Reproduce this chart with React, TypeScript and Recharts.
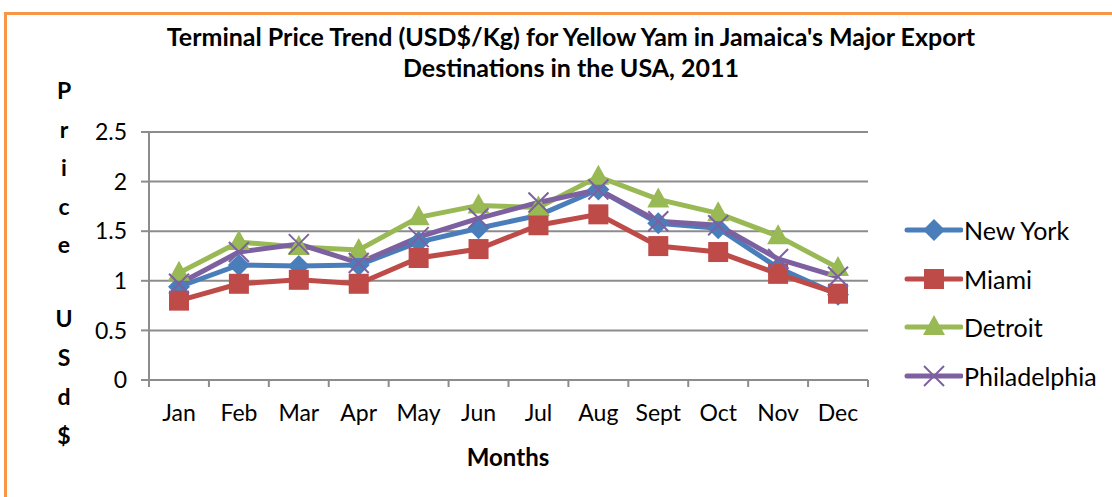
import React from "react";
import { LineChart, Line, XAxis, YAxis, CartesianGrid } from "recharts";

const months = ["Jan", "Feb", "Mar", "Apr", "May", "Jun", "Jul", "Aug", "Sept", "Oct", "Nov", "Dec"];
const newYork = [0.94, 1.16, 1.15, 1.16, 1.39, 1.53, 1.66, 1.92, 1.58, 1.53, 1.13, 0.86];
const miami = [0.8, 0.97, 1.01, 0.97, 1.23, 1.32, 1.56, 1.67, 1.35, 1.29, 1.07, 0.87];
const detroit = [1.08, 1.39, 1.34, 1.31, 1.64, 1.76, 1.74, 2.05, 1.82, 1.68, 1.45, 1.13];
const philadelphia = [0.97, 1.29, 1.37, 1.18, 1.44, 1.63, 1.79, 1.92, 1.6, 1.56, 1.22, 1.04];
const yTicks = [0, 0.5, 1, 1.5, 2, 2.5];
const bandEdges = [0, 1, 2, 3, 4, 5, 6, 7, 8, 9, 10, 11, 12];
const yLabelTop = ["P", "r", "i", "c", "e"];
const yLabelBottom = ["U", "S", "d", "$"];

const data = months.map((m, i) => ({
  month: m,
  idx: i,
  ny: newYork[i],
  mia: miami[i],
  det: detroit[i],
  phi: philadelphia[i],
}));

const FONT = "Lato, 'Open Sans', sans-serif";
const GRID = "#8c8c8c";

const series = [
  { key: "ny", name: "New York", color: "#4a7ebb", shape: "diamond" },
  { key: "mia", name: "Miami", color: "#be4b48", shape: "square" },
  { key: "det", name: "Detroit", color: "#98b954", shape: "triangle" },
  { key: "phi", name: "Philadelphia", color: "#7d60a0", shape: "cross" },
];

function Marker({ cx, cy, shape, color }: { cx: number; cy: number; shape: string; color: string }) {
  if (cx == null || cy == null) return null;
  if (shape === "diamond")
    return <polygon points={`${cx},${cy - 11} ${cx + 11},${cy} ${cx},${cy + 11} ${cx - 11},${cy}`} fill={color} />;
  if (shape === "square")
    return <rect x={cx - 10} y={cy - 10} width={20} height={20} fill={color} />;
  if (shape === "triangle")
    return <polygon points={`${cx},${cy - 12} ${cx + 11},${cy + 8} ${cx - 11},${cy + 8}`} fill={color} />;
  return (
    <g stroke={color} strokeWidth={2}>
      <line x1={cx - 10} y1={cy - 10} x2={cx + 10} y2={cy + 10} />
      <line x1={cx - 10} y1={cy + 10} x2={cx + 10} y2={cy - 10} />
    </g>
  );
}

function LegendBox() {
  return (
    <div style={{ fontFamily: FONT, fontSize: 25, color: "#000" }}>
      {series.map((s) => (
        <div key={s.key} style={{ display: "flex", alignItems: "center", height: 48.5 }}>
          <svg width={60} height={26}>
            <line x1={4} y1={13} x2={58} y2={13} stroke={s.color} strokeWidth={5} strokeLinecap="round" />
            <Marker cx={31} cy={13} shape={s.shape} color={s.color} />
          </svg>
          <span style={{ marginLeft: 1 }}>{s.name}</span>
        </div>
      ))}
    </div>
  );
}

const letterStyle: React.CSSProperties = {
  position: "absolute", left: 52, width: 24, textAlign: "center",
  fontFamily: FONT, fontWeight: 700, fontSize: 23, lineHeight: "28px",
};

export default function App() {
  return (
    <div style={{ position: "absolute", left: 0, top: 0, width: 1112, height: 497, background: "#fff", overflow: "hidden" }}>
      <div
        style={{
          position: "absolute", left: 4, top: 12, width: 1120, height: 500,
          borderTop: "3px solid #f79646", borderLeft: "3px solid #f79646",
        }}
      />
      <div
        style={{
          position: "absolute", left: 0, width: 1142, top: 21, textAlign: "center",
          fontFamily: FONT, fontWeight: 700, fontSize: 25, lineHeight: "31px", color: "#000",
        }}
      >
        Terminal Price Trend (USD$/Kg) for Yellow Yam in Jamaica's Major Export
        <br />
        Destinations in the USA, 2011
      </div>
      {yLabelTop.map((c, i) => (
        <div key={"t" + i} style={{ ...letterStyle, top: 76 + i * 38.5 }}>
          {c}
        </div>
      ))}
      {yLabelBottom.map((c, i) => (
        <div key={"b" + i} style={{ ...letterStyle, top: 304 + i * 39 }}>
          {c}
        </div>
      ))}
      <div style={{ position: "absolute", left: 448, width: 120, textAlign: "center", top: 443, fontFamily: FONT, fontWeight: 700, fontSize: 24, lineHeight: "28px" }}>
        Months
      </div>
      <div style={{ position: "absolute", left: 0, top: 0 }}>
        <LineChart width={1112} height={497} data={data} margin={{ top: 132, right: 244, bottom: 76, left: 89 }}>
          <CartesianGrid vertical={false} stroke={GRID} strokeWidth={2} />
          {/* axis line + band-edge tick marks, like Excel's category axis */}
          <XAxis
            xAxisId={0}
            dataKey="idx"
            type="number"
            domain={[0, 12]}
            allowDataOverflow
            ticks={bandEdges}
            height={1}
            axisLine={{ stroke: GRID, strokeWidth: 2 }}
            tick={() => <g />}
            tickLine={{ stroke: GRID, strokeWidth: 2 }}
            tickSize={7}
          />
          <XAxis
            xAxisId="cat"
            dataKey="month"
            height={40}
            padding={{ left: 30, right: 30 }}
            axisLine={false}
            tickLine={false}
            tickSize={0}
            tickMargin={24}
            interval={0}
            tick={{ fill: "#000", fontSize: 23, fontFamily: FONT }}
          />
          <YAxis
            width={60}
            domain={[0, 2.5]}
            ticks={yTicks}
            axisLine={{ stroke: GRID, strokeWidth: 2 }}
            tickLine={{ stroke: GRID, strokeWidth: 2 }}
            tickSize={8}
            tickMargin={14}
            tick={{ fill: "#000", fontSize: 23, fontFamily: FONT }}
          />
          {series.map((s) => (
            <Line
              key={s.key}
              xAxisId="cat"
              type="linear"
              dataKey={s.key}
              name={s.name}
              stroke={s.color}
              strokeWidth={5}
              isAnimationActive={false}
              dot={(p: any) => <Marker key={s.key + p.index} cx={p.cx} cy={p.cy} shape={s.shape} color={s.color} />}
              activeDot={false}
            />
          ))}
        </LineChart>
      </div>
      <div style={{ position: "absolute", left: 903, top: 206 }}>
        <LegendBox />
      </div>
    </div>
  );
}
